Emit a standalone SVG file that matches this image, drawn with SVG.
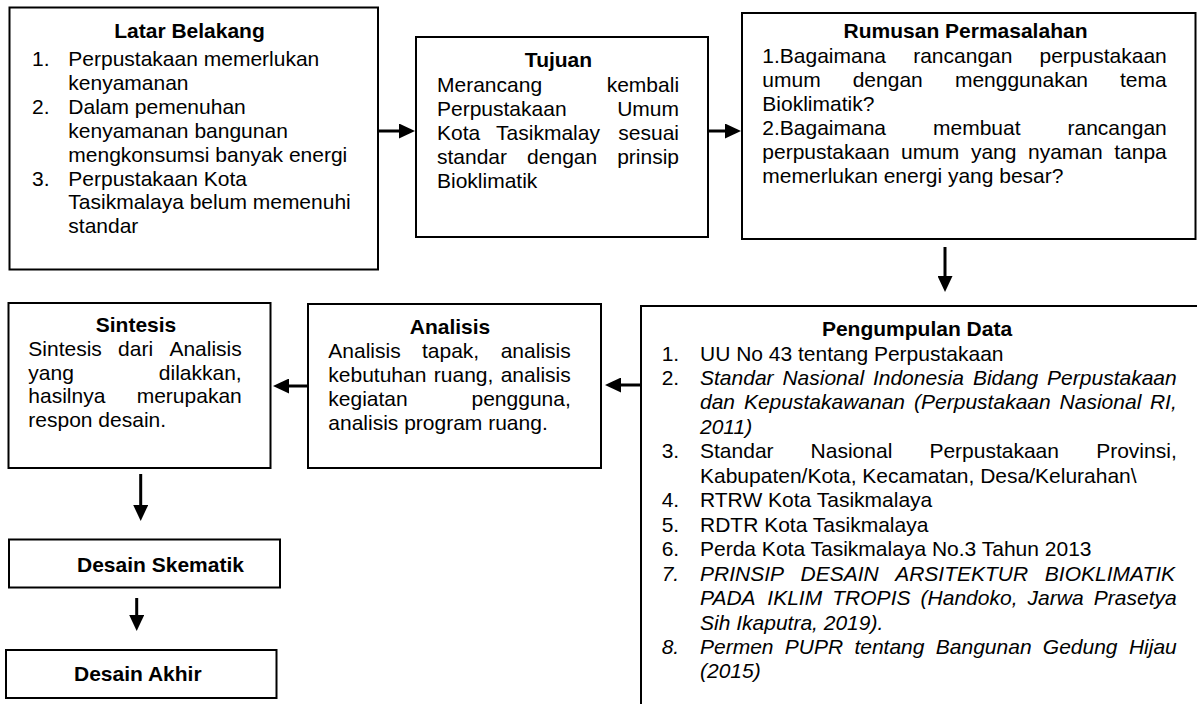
<svg xmlns="http://www.w3.org/2000/svg" width="1197" height="704" viewBox="0 0 1197 704">
<defs>
<style>
.t{font-family:"Liberation Sans",Arial,sans-serif;font-size:21px;fill:#000}
.b{font-weight:bold}
.i{font-style:italic}
.m{text-anchor:middle}
.box{fill:#fff;stroke:#000;stroke-width:2}
.conn{stroke:#000;stroke-width:3;fill:none}
</style>
<marker id="ah" viewBox="0 0 16 15" refX="0" refY="7.5" markerWidth="16" markerHeight="15" markerUnits="userSpaceOnUse" orient="auto">
<path d="M0,0 L16,7.5 L0,15 z" fill="#000"/>
</marker>
</defs>
<rect width="1197" height="704" fill="#fff"/>

<g id="latar-belakang">
<rect class="box" x="9.5" y="7.5" width="368.5" height="262"/>
<text class="t b m" x="189.5" y="38">Latar Belakang</text>
<text class="t" x="32" y="66">1.</text><text class="t" x="68.3" y="66">Perpustakaan memerlukan</text>
<text class="t" x="68.3" y="89.9">kenyamanan</text>
<text class="t" x="32" y="113.8">2.</text><text class="t" x="68.3" y="113.8">Dalam pemenuhan</text>
<text class="t" x="68.3" y="137.7">kenyamanan bangunan</text>
<text class="t" x="68.3" y="161.6">mengkonsumsi banyak energi</text>
<text class="t" x="32" y="185.5">3.</text><text class="t" x="68.3" y="185.5">Perpustakaan Kota</text>
<text class="t" x="68.3" y="209.4">Tasikmalaya belum memenuhi</text>
<text class="t" x="68.3" y="233.3">standar</text>
</g>

<g id="tujuan">
<rect class="box" x="416" y="37" width="292" height="200"/>
<text class="t b m" x="558.5" y="67">Tujuan</text>
<text class="t" y="91.5"><tspan x="437">Merancang</tspan><tspan x="606.7">kembali</tspan></text>
<text class="t" y="115.7"><tspan x="437">Perpustakaan</tspan><tspan x="617.2">Umum</tspan></text>
<text class="t" y="139.9"><tspan x="437">Kota</tspan><tspan x="496.1">Tasikmalay</tspan><tspan x="618.3">sesuai</tspan></text>
<text class="t" y="164"><tspan x="437">standar</tspan><tspan x="527.1">dengan</tspan><tspan x="617.2">prinsip</tspan></text>
<text class="t" x="437" y="188.2">Bioklimatik</text>
</g>

<g id="rumusan-permasalahan">
<rect class="box" x="742" y="13" width="453.5" height="226"/>
<text class="t b m" x="965.5" y="38">Rumusan Permasalahan</text>
<text class="t" y="62.5"><tspan x="762.3">1.Bagaimana</tspan><tspan x="913.2">rancangan</tspan><tspan x="1039.5">perpustakaan</tspan></text>
<text class="t" y="86.5"><tspan x="762.3">umum</tspan><tspan x="852.7">dengan</tspan><tspan x="954.9">menggunakan</tspan><tspan x="1120">tema</tspan></text>
<text class="t" x="762.3" y="110.5">Bioklimatik?</text>
<text class="t" y="134.5"><tspan x="762.3">2.Bagaimana</tspan><tspan x="933">membuat</tspan><tspan x="1067.5">rancangan</tspan></text>
<text class="t" y="158.5"><tspan x="762.3">perpustakaan</tspan><tspan x="901">umum</tspan><tspan x="970.9">yang</tspan><tspan x="1028">nyaman</tspan><tspan x="1114.2">tanpa</tspan></text>
<text class="t" x="762.3" y="182.5">memerlukan energi yang besar?</text>
</g>

<g id="pengumpulan-data">
<rect class="box" x="641" y="306" width="600" height="450"/>
<text class="t b m" x="917" y="336">Pengumpulan Data</text>
<text class="t" x="661.7" y="360.5">1.</text><text class="t" x="700" y="360.5">UU No 43 tentang Perpustakaan</text>
<text class="t" x="661.7" y="385">2.</text>
<text class="t i" y="385"><tspan x="700">Standar</tspan><tspan x="782.4">Nasional</tspan><tspan x="872.9">Indonesia</tspan><tspan x="972.9">Bidang</tspan><tspan x="1047.1">Perpustakaan</tspan></text>
<text class="t i" y="409.4"><tspan x="700">dan</tspan><tspan x="743.9">Kepustakawanan</tspan><tspan x="914.1">(Perpustakaan</tspan><tspan x="1059.6">Nasional</tspan><tspan x="1149.9">RI,</tspan></text>
<text class="t i" x="700" y="433.9">2011)</text>
<text class="t" x="661.7" y="458.3">3.</text>
<text class="t" y="458.3"><tspan x="700">Standar</tspan><tspan x="810.6">Nasional</tspan><tspan x="929.4">Perpustakaan</tspan><tspan x="1096.2">Provinsi,</tspan></text>
<text class="t" x="700" y="482.8">Kabupaten/Kota, Kecamatan, Desa/Kelurahan\</text>
<text class="t" x="661.7" y="507.2">4.</text><text class="t" x="700" y="507.2">RTRW Kota Tasikmalaya</text>
<text class="t" x="661.7" y="531.7">5.</text><text class="t" x="700" y="531.7">RDTR Kota Tasikmalaya</text>
<text class="t" x="661.7" y="556.1">6.</text><text class="t" x="700" y="556.1">Perda Kota Tasikmalaya No.3 Tahun 2013</text>
<text class="t i" x="661.7" y="580.6">7.</text>
<text class="t i" y="580.6"><tspan x="700">PRINSIP</tspan><tspan x="800.5">DESAIN</tspan><tspan x="895.2">ARSITEKTUR</tspan><tspan x="1044.8">BIOKLIMATIK</tspan></text>
<text class="t i" y="605"><tspan x="700">PADA</tspan><tspan x="767.3">IKLIM</tspan><tspan x="832.3">TROPIS</tspan><tspan x="920.6">(Handoko,</tspan><tspan x="1027.6">Jarwa</tspan><tspan x="1093.8">Prasetya</tspan></text>
<text class="t i" x="700" y="629.5">Sih Ikaputra, 2019).</text>
<text class="t i" x="661.7" y="653.9">8.</text>
<text class="t i" y="653.9"><tspan x="700">Permen</tspan><tspan x="784.8">PUPR</tspan><tspan x="854.4">tentang</tspan><tspan x="935.8">Bangunan</tspan><tspan x="1042.8">Gedung</tspan><tspan x="1128.9">Hijau</tspan></text>
<text class="t i" x="700" y="678.4">(2015)</text>
</g>

<g id="analisis">
<rect class="box" x="308" y="304" width="293" height="164"/>
<text class="t b m" x="450" y="333.5">Analisis</text>
<text class="t" y="358"><tspan x="328.3">Analisis</tspan><tspan x="422">tapak,</tspan><tspan x="500.7">analisis</tspan></text>
<text class="t" y="382"><tspan x="328.3">kebutuhan</tspan><tspan x="433.8">ruang,</tspan><tspan x="500.7">analisis</tspan></text>
<text class="t" y="406"><tspan x="328.3">kegiatan</tspan><tspan x="471.5">pengguna,</tspan></text>
<text class="t" x="328.3" y="430">analisis program ruang.</text>
</g>

<g id="sintesis">
<rect class="box" x="8.5" y="303" width="262" height="165"/>
<text class="t b m" x="136" y="332">Sintesis</text>
<text class="t" y="356"><tspan x="28.3">Sintesis</tspan><tspan x="118.1">dari</tspan><tspan x="169.4">Analisis</tspan></text>
<text class="t" y="379.5"><tspan x="28.3">yang</tspan><tspan x="158.8">dilakkan,</tspan></text>
<text class="t" y="403"><tspan x="28.3">hasilnya</tspan><tspan x="136.7">merupakan</tspan></text>
<text class="t" x="28.3" y="426.5">respon desain.</text>
</g>

<g id="desain-skematik">
<rect class="box" x="9" y="539.5" width="271" height="48"/>
<text class="t b" x="77" y="572">Desain Skematik</text>
</g>

<g id="desain-akhir">
<rect class="box" x="6" y="650" width="270.5" height="48"/>
<text class="t b" x="74" y="681">Desain Akhir</text>
</g>

<g id="connectors">
<line class="conn" x1="378" y1="131" x2="399" y2="131" marker-end="url(#ah)"/>
<line class="conn" x1="708" y1="131" x2="725" y2="131" marker-end="url(#ah)"/>
<line class="conn" x1="945" y1="247" x2="945" y2="276" marker-end="url(#ah)"/>
<line class="conn" x1="641" y1="385" x2="621" y2="385" marker-end="url(#ah)"/>
<line class="conn" x1="308" y1="386" x2="289" y2="386" marker-end="url(#ah)"/>
<line class="conn" x1="140.7" y1="474" x2="140.7" y2="505" marker-end="url(#ah)"/>
<line class="conn" x1="136.7" y1="598" x2="136.7" y2="615" marker-end="url(#ah)"/>
</g>
</svg>
